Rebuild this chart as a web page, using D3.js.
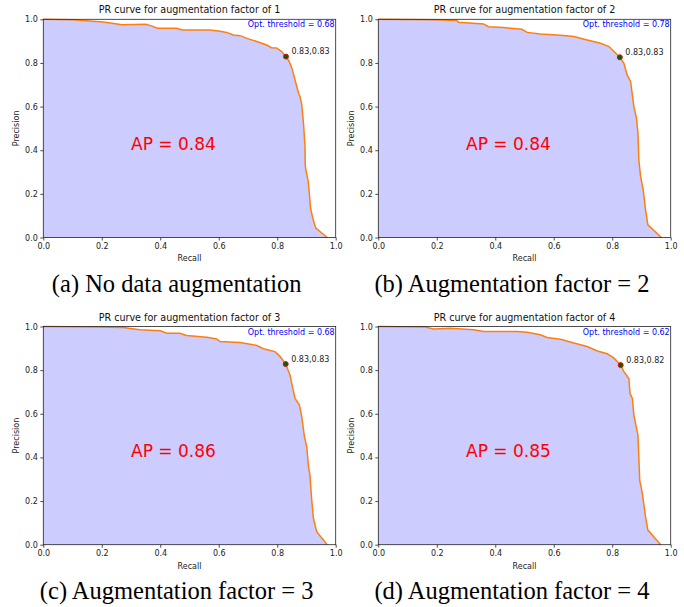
<!DOCTYPE html>
<html>
<head>
<meta charset="utf-8">
<script src="https://cdn.jsdelivr.net/npm/d3@7"></script>
<style>
  body { margin: 0; background: #fff; }
  svg text { font-family: "DejaVu Sans", sans-serif; }
  svg text.caption { font-family: "Liberation Serif", "Times New Roman", serif; }
</style>
</head>
<body>
<div id="canvas"></div>
<script>
"use strict"

/* Values */
let panelTitles = ["PR curve for augmentation factor of 1", "PR curve for augmentation factor of 2",
                   "PR curve for augmentation factor of 3", "PR curve for augmentation factor of 4"];
let captions = ["(a) No data augmentation", "(b) Augmentation factor = 2",
                "(c) Augmentation factor = 3", "(d) Augmentation factor = 4"];
let apValues = [0.84, 0.84, 0.86, 0.85];
let thresholds = [0.68, 0.78, 0.68, 0.62];
let optRecall = [0.830, 0.826, 0.829, 0.829];
let optPrecision = [0.829, 0.826, 0.828, 0.823];
let tickValues = [0, 0.2, 0.4, 0.6, 0.8, 1.0];

let recall1 = [0, 0.1, 0.205, 0.27, 0.35, 0.37, 0.39, 0.456, 0.475, 0.57, 0.6, 0.627, 0.65, 0.673, 0.69, 0.707, 0.73, 0.764, 0.78, 0.798, 0.815, 0.83, 0.838, 0.846, 0.852, 0.861, 0.873, 0.878, 0.884, 0.89, 0.895, 0.896, 0.898, 0.906, 0.91, 0.914, 0.923, 0.932, 0.971];
let precision1 = [1, 0.998, 0.988, 0.975, 0.977, 0.97, 0.959, 0.959, 0.951, 0.951, 0.946, 0.94, 0.928, 0.925, 0.916, 0.908, 0.898, 0.882, 0.87, 0.869, 0.852, 0.829, 0.814, 0.791, 0.768, 0.722, 0.661, 0.646, 0.608, 0.52, 0.417, 0.33, 0.31, 0.256, 0.2, 0.134, 0.081, 0.043, 0];

let recall2 = [0, 0.183, 0.269, 0.274, 0.36, 0.377, 0.429, 0.491, 0.509, 0.554, 0.623, 0.669, 0.714, 0.76, 0.789, 0.806, 0.826, 0.84, 0.851, 0.863, 0.874, 0.883, 0.888, 0.891, 0.897, 0.906, 0.914, 0.922, 0.968];
let precision2 = [1, 0.998, 0.994, 0.986, 0.979, 0.966, 0.962, 0.954, 0.94, 0.933, 0.927, 0.921, 0.905, 0.89, 0.875, 0.852, 0.826, 0.798, 0.745, 0.714, 0.6, 0.547, 0.478, 0.356, 0.28, 0.218, 0.127, 0.058, 0];

let recall3 = [0, 0.182, 0.274, 0.33, 0.4, 0.422, 0.467, 0.49, 0.559, 0.593, 0.604, 0.673, 0.73, 0.753, 0.792, 0.81, 0.829, 0.844, 0.852, 0.861, 0.876, 0.884, 0.893, 0.901, 0.907, 0.912, 0.918, 0.924, 0.935, 0.971];
let precision3 = [1, 0.998, 0.995, 0.985, 0.98, 0.969, 0.969, 0.959, 0.951, 0.943, 0.931, 0.927, 0.913, 0.898, 0.885, 0.862, 0.828, 0.777, 0.724, 0.67, 0.64, 0.586, 0.495, 0.449, 0.357, 0.319, 0.204, 0.12, 0.06, 0];

let recall4 = [0, 0.16, 0.189, 0.246, 0.326, 0.36, 0.474, 0.509, 0.554, 0.577, 0.623, 0.669, 0.714, 0.749, 0.783, 0.806, 0.829, 0.84, 0.857, 0.861, 0.869, 0.874, 0.888, 0.891, 0.894, 0.903, 0.914, 0.922, 0.966];
let precision4 = [1, 0.998, 0.989, 0.992, 0.985, 0.977, 0.977, 0.974, 0.962, 0.95, 0.942, 0.924, 0.908, 0.888, 0.875, 0.855, 0.823, 0.793, 0.762, 0.693, 0.67, 0.594, 0.502, 0.403, 0.296, 0.235, 0.128, 0.067, 0];

let recalls = [recall1, recall2, recall3, recall4];
let precisions = [precision1, precision2, precision3, precision4];

/* Layout */
let drawingWidth = 684;
let drawingHeight = 607;
let plotWidth = 292.4;
let plotHeight = 218.2;
let panelLeft = [43.3, 378.3];
let panelTop = [19.3, 326.5];
let captionX = [176.7, 512];

let drawing = d3.select("#canvas")
    .append("svg")
    .attr("width", drawingWidth)
    .attr("height", drawingHeight);

let xScale = d3.scaleLinear().domain([0, 1]).range([0, plotWidth]);
let yScale = d3.scaleLinear().domain([0, 1]).range([plotHeight, 0]);

for (let i = 0; i < 4; i++) {
    let left = panelLeft[i % 2];
    let top = panelTop[Math.floor(i / 2)];
    let g = drawing.append("g").attr("transform", `translate(${left},${top})`);

    let points = recalls[i].map((r, k) => [r, precisions[i][k]]);

    /* filled area under the curve */
    g.append("path")
        .datum(points)
        .attr("d", d3.area().x(d => xScale(d[0])).y0(yScale(0)).y1(d => yScale(d[1])))
        .attr("fill", "#ccccff");

    /* the PR curve itself */
    g.append("path")
        .datum(points)
        .attr("d", d3.line().x(d => xScale(d[0])).y(d => yScale(d[1])))
        .attr("fill", "none")
        .attr("stroke", "#ff7f0e")
        .attr("stroke-width", 1.5);

    /* axes */
    let xAxis = g.append("g")
        .attr("transform", `translate(0,${plotHeight})`)
        .call(d3.axisBottom(xScale).tickValues(tickValues).tickFormat(d3.format(".1f")).tickSizeOuter(0).tickSize(3).tickPadding(2.5));
    let yAxis = g.append("g")
        .call(d3.axisLeft(yScale).tickValues(tickValues).tickFormat(d3.format(".1f")).tickSizeOuter(0).tickSize(3).tickPadding(2.5));
    [xAxis, yAxis].forEach(ax => {
        ax.selectAll("text").attr("font-size", 8).attr("fill", "#222");
        ax.selectAll("line").attr("stroke", "#222").attr("stroke-width", 0.8);
        ax.select(".domain").remove();
    });

    /* frame */
    g.append("rect")
        .attr("width", plotWidth)
        .attr("height", plotHeight)
        .attr("fill", "none")
        .attr("stroke", "#222")
        .attr("stroke-width", 0.8);

    /* title and axis labels */
    g.append("text")
        .attr("x", plotWidth / 2)
        .attr("y", -6)
        .attr("text-anchor", "middle")
        .attr("font-size", 9.6)
        .attr("fill", "#111")
        .text(panelTitles[i]);

    g.append("text")
        .attr("x", plotWidth / 2)
        .attr("y", plotHeight + 24)
        .attr("text-anchor", "middle")
        .attr("font-size", 8)
        .attr("fill", "#222")
        .text("Recall");

    g.append("text")
        .attr("transform", `translate(${-24.5},${plotHeight / 2}) rotate(-90)`)
        .attr("text-anchor", "middle")
        .attr("font-size", 8)
        .attr("fill", "#222")
        .text("Precision");

    /* optimal threshold text */
    g.append("text")
        .attr("x", plotWidth - 1)
        .attr("y", 8)
        .attr("text-anchor", "end")
        .attr("font-size", 8)
        .attr("fill", "#0000ff")
        .text("Opt. threshold = " + thresholds[i].toFixed(2));

    /* optimal point and its label */
    g.append("circle")
        .attr("cx", xScale(optRecall[i]))
        .attr("cy", yScale(optPrecision[i]))
        .attr("r", 2.5)
        .attr("fill", "#006400")
        .attr("stroke", "#e01010")
        .attr("stroke-width", 1);

    g.append("text")
        .attr("x", xScale(optRecall[i]) + 5.5)
        .attr("y", yScale(optPrecision[i]) - 2.5)
        .attr("font-size", 8)
        .attr("fill", "#222")
        .text(optRecall[i].toFixed(2) + "," + optPrecision[i].toFixed(2));

    /* AP text */
    g.append("text")
        .attr("x", xScale(0.3))
        .attr("y", yScale(0.4))
        .attr("font-size", 17)
        .attr("fill", "#ff0000")
        .text("AP = " + apValues[i].toFixed(2));

    /* caption under the panel */
    drawing.append("text")
        .attr("class", "caption")
        .attr("x", captionX[i % 2])
        .attr("y", top + plotHeight + 54)
        .attr("text-anchor", "middle")
        .attr("font-size", 24.5)
        .attr("fill", "#000")
        .text(captions[i]);
}
</script>
</body>
</html>
